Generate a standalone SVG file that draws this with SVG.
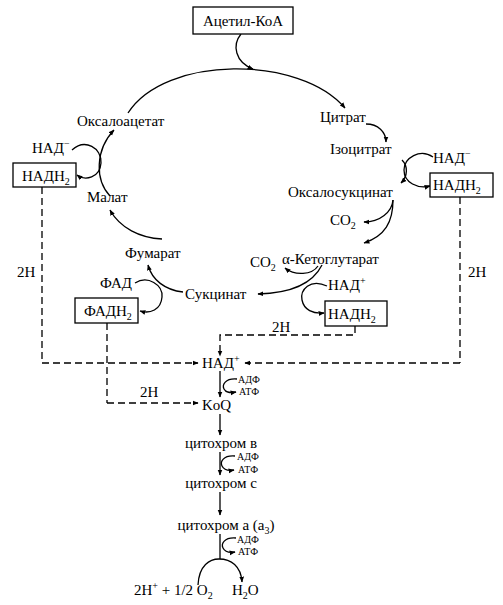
<svg xmlns="http://www.w3.org/2000/svg" width="503" height="605" viewBox="0 0 503 605">
<style>
text{font-family:"Liberation Serif","Times New Roman",serif;font-size:15px;fill:#000}
.s{font-size:10px}
.c{text-anchor:middle}
.box{fill:#fff;stroke:#000;stroke-width:1.3}
.ar{fill:none;stroke:#000;stroke-width:1.3;marker-end:url(#ah)}
.ln{fill:none;stroke:#000;stroke-width:1.3}
.d{fill:none;stroke:#000;stroke-width:1.3;stroke-dasharray:7 4}
.da{fill:none;stroke:#000;stroke-width:1.3;stroke-dasharray:7 4;marker-end:url(#ah)}
</style>
<defs>
<marker id="ah" viewBox="0 0 10 10" refX="9" refY="5" markerWidth="6" markerHeight="6" markerUnits="userSpaceOnUse" orient="auto">
<path d="M0,1 L10,5 L0,9 z" fill="#000"/>
</marker>
</defs>
<rect width="503" height="605" fill="#fff"/>
<g id="connectors">
<path class="ar" d="M241,34 C232,45 235,62 253,69"/>
<path class="ar" d="M128,113 C165,55 300,55 345,108"/>
<path class="ar" d="M366,124 C378,124 386,132 386,142"/>
<path class="ar" d="M402,160 C408,166 408,176 401,183"/>
<path class="ar" d="M433,157 C420,148 404,158 404,170 C404,183 418,189 430,186"/>
<path class="ar" d="M393,200 C393,222 385,236 364,243"/>
<path class="ar" d="M393,200 C392,212 380,222 364,222"/>
<path class="ar" d="M322,265 C312,285 290,293 258,294"/>
<path class="ar" d="M318,266 C312,275 295,276 285,268"/>
<path class="ar" d="M327,286 C310,278 300,290 302,300 C304,310 313,314 324,313"/>
<path class="ar" d="M183,292 C165,290 152,280 148,265"/>
<path class="ar" d="M135,283 C148,275 163,285 162,297 C161,310 150,314 140,311"/>
<path class="ar" d="M162,239 C140,238 120,228 110,210"/>
<path class="ar" d="M110,196 C95,180 95,150 114,130"/>
<path class="ar" d="M72,150 C85,138 102,148 101,163 C100,178 85,181 77,175"/>
<path class="d" d="M42,187 V363"/>
<path class="da" d="M42,363 H198"/>
<path class="d" d="M460,197 V363"/>
<path class="da" d="M460,363 H245"/>
<path class="d" d="M107,323 V403"/>
<path class="da" d="M107,403 H198"/>
<path class="da" d="M355,326 V335 H220 V356"/>
<path class="ar" d="M220,371 V397"/>
<path class="ar" d="M237,379 C225,378 222,385 224,389 C226,393 230,393 236,392"/>
<path class="ar" d="M220,414 V435"/>
<path class="ar" d="M220,452 V475"/>
<path class="ar" d="M235,456 C223,455 220,462 222,466 C224,470 228,471 234,470"/>
<path class="ar" d="M220,492 V515"/>
<path class="ln" d="M220,534 V559"/>
<path class="ar" d="M236,538 C224,537 221,544 223,548 C225,552 229,553 235,552"/>
<path class="ar" d="M198,585 C199,565 210,559 219,559 C231,559 241,566 242,582"/>
</g>
<g id="acetyl"><rect class="box" x="193" y="7" width="100" height="27"/><text class="c" x="243" y="26">Ацетил-КоА</text></g>
<g id="oxaloacetate"><text x="77" y="126">Оксалоацетат</text></g>
<g id="citrate"><text x="320" y="122">Цитрат</text></g>
<g id="isocitrate"><text x="330" y="154">Ізоцитрат</text></g>
<g id="nad-r1"><text x="433" y="163">НАД<tspan class="s" dy="-6">−</tspan></text></g>
<g id="nadh2-r1"><rect class="box" x="430" y="173" width="63" height="24"/><text x="433" y="190">НАДН<tspan class="s" dy="4">2</tspan></text></g>
<g id="oxalosuccinate"><text x="288" y="197">Оксалосукцинат</text></g>
<g id="co2-a"><text x="330" y="225">CO<tspan class="s" dy="4">2</tspan></text></g>
<g id="ketoglutarate"><text x="282" y="264">α-Кетоглутарат</text></g>
<g id="co2-b"><text x="250" y="267">CO<tspan class="s" dy="4">2</tspan></text></g>
<g id="nad-r2"><text x="328" y="290">НАД<tspan class="s" dy="-6">+</tspan></text></g>
<g id="nadh2-r2"><rect class="box" x="325" y="301" width="62" height="25"/><text x="328" y="319">НАДН<tspan class="s" dy="4">2</tspan></text></g>
<g id="succinate"><text x="185" y="299">Сукцинат</text></g>
<g id="fad"><text x="100" y="288">ФАД</text></g>
<g id="fadh2"><rect class="box" x="75" y="298" width="63" height="25"/><text x="84" y="316">ФАДН<tspan class="s" dy="4">2</tspan></text></g>
<g id="fumarate"><text x="125" y="258">Фумарат</text></g>
<g id="malate"><text x="87" y="202">Малат</text></g>
<g id="nad-l"><text x="32" y="153">НАД<tspan class="s" dy="-6">−</tspan></text></g>
<g id="nadh2-l"><rect class="box" x="13" y="163" width="63" height="24"/><text x="22" y="181">НАДН<tspan class="s" dy="4">2</tspan></text></g>
<g id="h-labels"><text x="17" y="277">2H</text><text x="468" y="277">2H</text><text x="272" y="332">2H</text><text x="140" y="397">2H</text></g>
<g id="nad-c"><text x="202" y="368">НАД<tspan class="s" dy="-6">+</tspan></text></g>
<g id="atp1"><text class="s" x="238" y="383">АДФ</text><text class="s" x="239" y="395">АТФ</text></g>
<g id="koq"><text x="202" y="410">KoQ</text></g>
<g id="cytb"><text class="c" x="221" y="448">цитохром в</text></g>
<g id="atp2"><text class="s" x="237" y="460">АДФ</text><text class="s" x="238" y="473">АТФ</text></g>
<g id="cytc"><text class="c" x="221" y="488">цитохром с</text></g>
<g id="cyta"><text class="c" x="226" y="530">цитохром а (а<tspan class="s" dy="4">3</tspan><tspan dy="-4">)</tspan></text></g>
<g id="atp3"><text class="s" x="237" y="543">АДФ</text><text class="s" x="238" y="555">АТФ</text></g>
<g id="reactants"><text x="134" y="595">2H<tspan class="s" dy="-6">+</tspan><tspan dy="6"> + 1/2 O</tspan><tspan class="s" dy="4">2</tspan></text></g>
<g id="water"><text x="232" y="595">H<tspan class="s" dy="4">2</tspan><tspan dy="-4">O</tspan></text></g>
</svg>
